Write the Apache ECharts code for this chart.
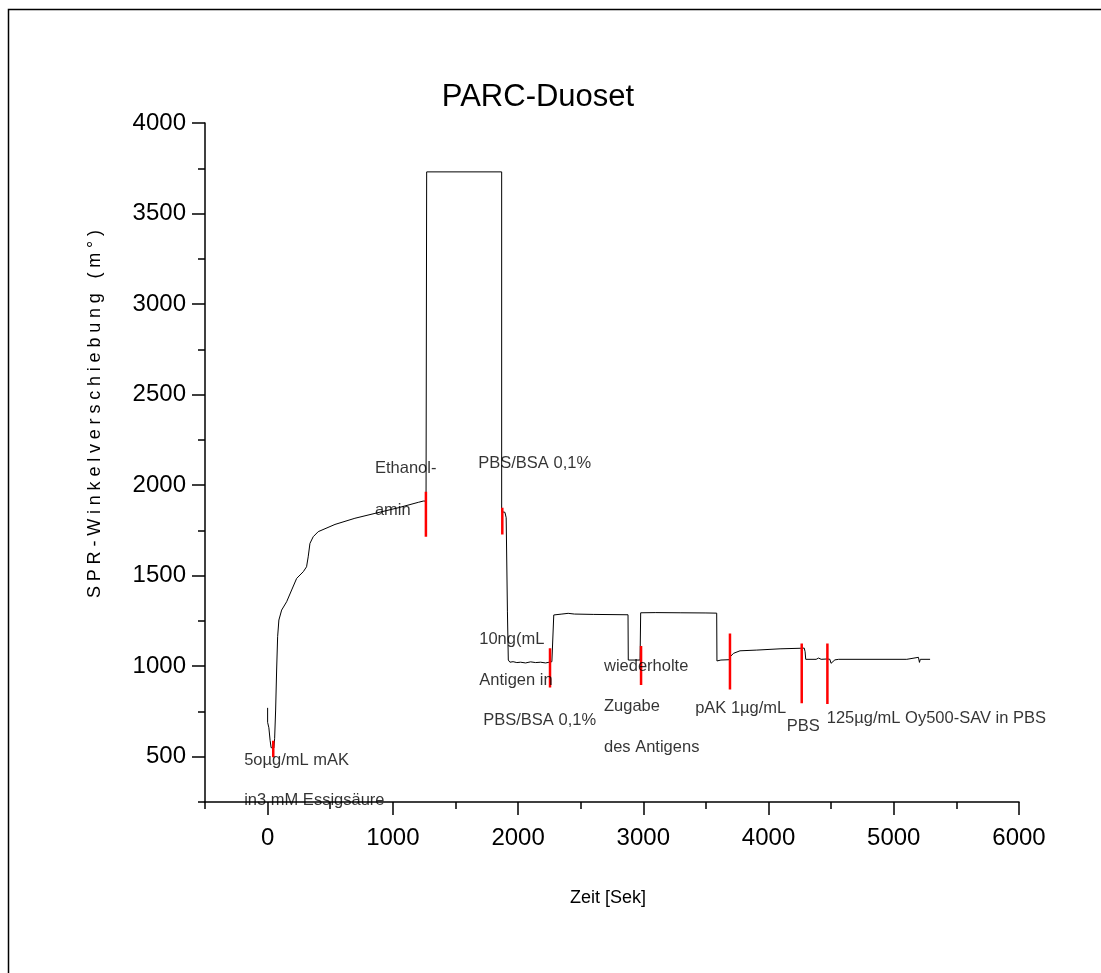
<!DOCTYPE html>
<html>
<head>
<meta charset="utf-8">
<script src="https://cdn.jsdelivr.net/npm/echarts@6/dist/echarts.min.js"></script>
<style>
  html, body { margin: 0; padding: 0; background: #fff; }
  #chart { width: 1101px; height: 973px; }
</style>
</head>
<body>
<div id="chart"></div>
<script>
// axis ticks
const xMajorTicks = [0, 1000, 2000, 3000, 4000, 5000, 6000];
const xMinorTicks = [-500, 500, 1500, 2500, 3500, 4500, 5500];
const yMajorTicks = [500, 1000, 1500, 2000, 2500, 3000, 3500, 4000];
const yMinorTicks = [250, 750, 1250, 1750, 2250, 2750, 3250, 3750];

// SPR signal
const timeSec = [0, 0, 10, 20, 28, 50, 56, 64, 72, 80, 90, 112, 152, 192, 232, 285, 311, 324, 338, 364, 404,
  538, 697, 857, 1043, 1203, 1243, 1265, 1270, 1869, 1869, 1895, 1905, 1915, 1922, 1935, 1960, 1990, 2020,
  2060, 2100, 2140, 2180, 2220, 2270, 2281, 2285, 2350, 2400, 2450, 2600, 2750, 2878, 2880, 2974, 2979,
  3100, 3300, 3500, 3586, 3588, 3620, 3690, 3694, 3720, 3772, 3906, 4092, 4252, 4285, 4292, 4297, 4380,
  4400, 4420, 4470, 4490, 4499, 4530, 4560, 5104, 5117, 5197, 5205, 5212, 5290];
const shift = [770, 690, 660, 590, 550, 548, 600, 758, 979, 1163, 1255, 1310, 1356, 1421, 1485, 1522, 1549, 1604, 1678, 1715, 1743,
  1783, 1817, 1844, 1875, 1905, 1912, 1912, 3730, 3730, 1853, 1850, 1820, 1300, 1034, 1022, 1025, 1020, 1022,
  1018, 1024, 1020, 1022, 1018, 1025, 1030, 1283, 1288, 1292, 1288, 1286, 1285, 1284, 1034, 1034, 1295,
  1296, 1295, 1294, 1293, 1029, 1034, 1036, 1052, 1071, 1085, 1089, 1096, 1099, 1100, 1080, 1038, 1038,
  1045, 1038, 1040, 1038, 1016, 1035, 1038, 1038, 1049, 1049, 1021, 1038, 1038];

// red injection markers
const markerTime = [45, 1264, 1874, 2255, 2982, 3692, 4265, 4470];
const markerLow = [497, 1715, 1728, 883, 896, 872, 795, 791];
const markerHigh = [588, 1963, 1875, 1099, 1111, 1181, 1126, 1126];

// annotation texts (left edge, middle line in data units)
const noteText = ['5oµg/mL mAK', 'in3 mM Essigsäure', 'Ethanol-', 'amin', 'PBS/BSA 0,1%',
  '10ng(mL', 'Antigen in', 'PBS/BSA 0,1%', 'wiederholte', 'Zugabe', 'des Antigens',
  'pAK 1µg/mL', 'PBS', '125µg/mL Oy500-SAV in PBS'];
const noteTime = [-187, -187, 857, 857, 1682, 1690, 1690, 1722, 2686, 2686, 2686, 3414, 4145, 4465];
const noteShift = [478, 261, 2094, 1862, 2120, 1145, 924, 703, 997, 776, 554, 767, 666, 712];

const yTitle = 'SPR-Winkelverschiebung (m°)';

const font = "'Liberation Sans', Arial, sans-serif";
const black = '#000';

const chart = echarts.init(document.getElementById('chart'));

const markerSeries = markerTime.map((t, i) => ({
  type: 'line',
  data: [[t, markerLow[i]], [t, markerHigh[i]]],
  showSymbol: false,
  lineStyle: { color: '#ff0000', width: 2.5 },
  silent: true,
  z: 3
}));

const plain = v => String(v);

// y title is spaced out in the original, lay it out letter by letter
const ctx = document.createElement('canvas').getContext('2d');
ctx.font = "18px 'Liberation Sans', Arial, sans-serif";
const yTitleBottom = 598, yTitleTop = 230;
const chars = yTitle.split('');
const widths = chars.map(c => ctx.measureText(c).width);
const natural = widths.reduce((a, b) => a + b, 0);
const gap = ((yTitleBottom - yTitleTop) - natural) / (chars.length - 1);
let pos = 0;
const yTitleParts = chars.map((c, i) => {
  const el = {
    type: 'text', x: 95, y: yTitleBottom - pos, rotation: Math.PI / 2, silent: true,
    style: { text: c, fontSize: 18, fontFamily: font, fill: black, textAlign: 'left', textVerticalAlign: 'middle' }
  };
  pos += widths[i] + gap;
  return el;
});

const option = {
  animation: false,
  backgroundColor: '#fff',
  grid: { left: 205, right: 82, top: 123, bottom: 171, containLabel: false, outerBoundsMode: 'none' },
  xAxis: [{
    type: 'value', min: -500, max: 6000, interval: 500,
    axisLine: { onZero: false, lineStyle: { color: black, width: 1.5 } },
    axisTick: { customValues: xMajorTicks, length: 13, lineStyle: { color: black, width: 1.5 } },
    axisLabel: { customValues: xMajorTicks, formatter: plain, fontSize: 24, color: black, margin: 24, fontFamily: font },
    splitLine: { show: false }
  }, {
    type: 'value', min: -500, max: 6000, interval: 500, position: 'bottom',
    axisLine: { show: false, onZero: false },
    axisTick: { customValues: xMinorTicks, length: 7, lineStyle: { color: black, width: 1.5 } },
    axisLabel: { show: false },
    splitLine: { show: false }
  }],
  yAxis: [{
    type: 'value', min: 250, max: 4000, interval: 250,
    axisLine: { show: true, onZero: false, lineStyle: { color: black, width: 1.5 } },
    axisTick: { show: true, customValues: yMajorTicks, length: 13, lineStyle: { color: black, width: 1.5 } },
    axisLabel: { customValues: yMajorTicks, formatter: plain, fontSize: 24, color: black, margin: 19, fontFamily: font },
    splitLine: { show: false }
  }, {
    type: 'value', min: 250, max: 4000, interval: 250, position: 'left',
    axisLine: { show: false, onZero: false },
    axisTick: { show: true, customValues: yMinorTicks, length: 7, lineStyle: { color: black, width: 1.5 } },
    axisLabel: { show: false },
    splitLine: { show: false }
  }],
  series: [{
    type: 'line',
    data: timeSec.map((t, i) => [t, shift[i]]),
    showSymbol: false,
    lineStyle: { color: black, width: 1 },
    silent: true,
    z: 2
  }, ...markerSeries, {
    type: 'scatter',
    data: noteTime.map((t, i) => [t, noteShift[i], noteText[i]]),
    symbolSize: 0,
    silent: true,
    z: 4,
    label: {
      show: true, position: 'right', distance: 0,
      formatter: p => p.data[2],
      fontSize: 16.5, color: black, fontFamily: font
    }
  }],
  graphic: [{
    type: 'rect', silent: true,
    shape: { x: 8.5, y: 9.5, width: 1200, height: 1200 },
    style: { fill: null, stroke: black, lineWidth: 1.5 }
  }, {
    type: 'text', x: 538, y: 97, silent: true,
    style: { text: 'PARC-Duoset', fontSize: 31, fontFamily: font, fill: black, textAlign: 'center', textVerticalAlign: 'middle' }
  }, {
    type: 'text', x: 608, y: 898, silent: true,
    style: { text: 'Zeit [Sek]', fontSize: 18, fontFamily: font, fill: black, textAlign: 'center', textVerticalAlign: 'middle' }
  }, ...yTitleParts]
};

chart.setOption(option);
</script>
</body>
</html>
